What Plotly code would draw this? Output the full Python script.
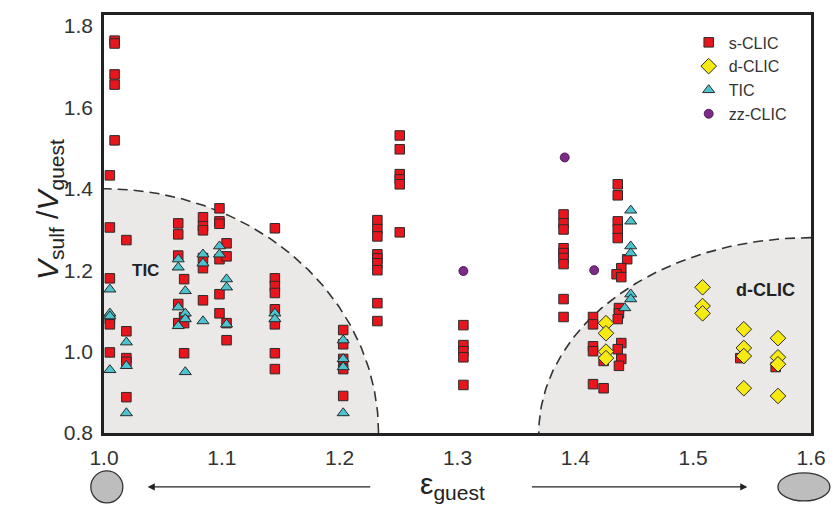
import numpy as np
import plotly.graph_objects as go

# ---- data -------------------------------------------------------------
s_clic_x = [1.009, 1.009, 1.009, 1.009, 1.009,
            1.005, 1.005, 1.005, 1.005, 1.005, 1.005,
            1.019, 1.019, 1.019, 1.019, 1.019,
            1.063, 1.063, 1.063, 1.063, 1.063,
            1.068, 1.068, 1.068, 1.068,
            1.084, 1.084, 1.084, 1.084, 1.084, 1.084,
            1.098, 1.098, 1.098, 1.098, 1.098, 1.098,
            1.104, 1.104, 1.104, 1.104,
            1.145, 1.145, 1.145, 1.145, 1.145, 1.145, 1.145, 1.145,
            1.203, 1.203, 1.203, 1.203, 1.203,
            1.232, 1.232, 1.232, 1.232, 1.232, 1.232, 1.232, 1.232, 1.232,
            1.251, 1.251, 1.251, 1.251, 1.251, 1.251,
            1.305, 1.305, 1.305, 1.305, 1.305,
            1.390, 1.390, 1.390, 1.390, 1.390, 1.390, 1.390, 1.390, 1.390,
            1.436, 1.436, 1.436, 1.436, 1.436, 1.444, 1.439, 1.435, 1.439,
            1.437, 1.437, 1.436, 1.439, 1.436, 1.439, 1.437,
            1.415, 1.415, 1.415, 1.415, 1.424, 1.415, 1.424,
            1.540, 1.570]
s_clic_y = [1.764, 1.757, 1.681, 1.656, 1.519,
            1.433, 1.305, 1.180, 1.080, 1.067, 0.998,
            1.274, 1.050, 0.984, 0.975, 0.888,
            1.315, 1.288, 1.236, 1.117, 1.070,
            1.178, 1.085, 1.070, 0.996,
            1.330, 1.308, 1.298, 1.230, 1.205, 1.126,
            1.352, 1.320, 1.314, 1.227, 1.141, 1.094,
            1.266, 1.234, 1.070, 1.028,
            1.303, 1.180, 1.161, 1.144, 1.104, 1.067, 0.996, 0.957,
            1.053, 1.018, 0.982, 0.957, 0.891,
            1.323, 1.301, 1.283, 1.239, 1.229, 1.217, 1.200, 1.119, 1.075,
            1.531, 1.497, 1.436, 1.423, 1.411, 1.293,
            1.065, 1.016, 1.001, 0.986, 0.918,
            1.337, 1.315, 1.300, 1.254, 1.242, 1.230, 1.215, 1.129, 1.085,
            1.411, 1.384, 1.320, 1.300, 1.279, 1.227, 1.205, 1.190, 1.183,
            1.107, 1.094, 1.080, 1.021, 1.006, 0.982, 0.965,
            1.085, 1.067, 1.013, 1.001, 0.977, 0.920, 0.910,
            0.984, 0.962]

d_clic_x = [1.426, 1.426, 1.426, 1.426,
            1.508, 1.508, 1.508,
            1.543, 1.543, 1.543, 1.543,
            1.572, 1.572, 1.572, 1.572]
d_clic_y = [1.070, 1.045, 1.000, 0.984,
            1.158, 1.112, 1.094,
            1.055, 1.009, 0.989, 0.910,
            1.033, 0.986, 0.969, 0.891]

tic_x = [1.005, 1.005, 1.005, 1.005,
         1.019, 1.019, 1.019,
         1.063, 1.063, 1.063, 1.063,
         1.069, 1.069, 1.069, 1.069,
         1.084, 1.084, 1.084,
         1.098, 1.098,
         1.104, 1.104, 1.104,
         1.145, 1.145,
         1.203, 1.203, 1.203, 1.203,
         1.447, 1.447, 1.447, 1.447, 1.447, 1.447, 1.442]
tic_y = [1.153, 1.094, 1.087, 0.955,
         1.023, 0.965, 0.849,
         1.227, 1.207, 1.109, 1.063,
         1.149, 1.094, 1.080, 0.950,
         1.239, 1.217, 1.075,
         1.259, 1.239,
         1.178, 1.158, 1.067,
         1.094, 1.080,
         1.028, 0.982, 0.962, 0.849,
         1.347, 1.320, 1.259, 1.242, 1.141, 1.129, 1.107]

zz_clic_x = [1.305, 1.391, 1.416]
zz_clic_y = [1.198, 1.477, 1.200]

# stability regions: quarter ellipses (centre x, centre y, x radius, y radius)
tic_region = (1.0, 0.8, 0.233, 0.600)
dclic_region = (1.6, 0.8, 0.231, 0.480)

x_ticks = [1.0, 1.1, 1.2, 1.3, 1.4, 1.5, 1.6]
y_ticks = [0.8, 1.0, 1.2, 1.4, 1.6, 1.8]

# ---- figure -------------------------------------------------------------
REGION_FILL = "#ebe9e7"
fig = go.Figure()


def quarter(cx, cy, rx, ry, t0, t1):
    t = np.linspace(t0, t1, 120)
    return cx + rx * np.cos(t), cy + ry * np.sin(t)


for (cx, cy, rx, ry), (t0, t1) in [(tic_region, (0, np.pi / 2)),
                                   (dclic_region, (np.pi / 2, np.pi))]:
    ax_, ay_ = quarter(cx, cy, rx, ry, t0, t1)
    fig.add_trace(go.Scatter(
        x=np.concatenate([[cx], ax_, [cx]]), y=np.concatenate([[cy], ay_, [cy]]),
        mode="lines", fill="toself", fillcolor=REGION_FILL,
        line=dict(width=0), hoverinfo="skip", showlegend=False))
    fig.add_trace(go.Scatter(
        x=ax_, y=ay_, mode="lines", hoverinfo="skip", showlegend=False,
        line=dict(color="#333333", width=1.6, dash="10px,6px")))

edge = dict(color="#2a2a2a", width=1)
fig.add_trace(go.Scatter(
    x=s_clic_x, y=s_clic_y, mode="markers", name="s-CLIC", legendrank=1,
    marker=dict(symbol="square", size=9.5, color="#e8161c", line=edge)))
fig.add_trace(go.Scatter(
    x=tic_x, y=tic_y, mode="markers", name="TIC", legendrank=3,
    marker=dict(symbol="triangle-up", size=10.5, color="#4cc3cf", line=edge)))
fig.add_trace(go.Scatter(
    x=d_clic_x, y=d_clic_y, mode="markers", name="d-CLIC", legendrank=2,
    marker=dict(symbol="diamond", size=12, color="#f6ea12", line=edge)))
fig.add_trace(go.Scatter(
    x=zz_clic_x, y=zz_clic_y, mode="markers", name="zz-CLIC", legendrank=4,
    marker=dict(symbol="circle", size=9, color="#7d2a88", line=dict(color="#3a1040", width=0.8))))

FONT = "Liberation Sans, Arial, sans-serif"
axis_common = dict(showline=True, mirror=True, linewidth=2.5, linecolor="#222222",
                   showgrid=False, zeroline=False, ticks="outside", ticklen=4,
                   tickcolor="rgba(0,0,0,0)",
                   tickfont=dict(family=FONT, size=21, color="#333333"))

fig.update_layout(
    width=838, height=506,
    margin=dict(l=104, r=22, t=14, b=73),
    paper_bgcolor="white", plot_bgcolor="white",
    font=dict(family=FONT, color="#222222"),
    xaxis=dict(range=[1.0, 1.6], tickvals=x_ticks,
               ticktext=[f"{v:.1f}" for v in x_ticks], **axis_common),
    yaxis=dict(range=[0.8, 1.827], tickvals=y_ticks,
               ticktext=[f"{v:.1f}" for v in y_ticks], **axis_common),
    legend=dict(x=0.827, y=0.975, xanchor="left", yanchor="top",
                bgcolor="rgba(0,0,0,0)", tracegroupgap=0, itemwidth=30,
                font=dict(family=FONT, size=16, color="#333333")),
    showlegend=True,
)

# region labels
fig.add_annotation(x=1.035, y=1.2, text="<b>TIC</b>", showarrow=False,
                   font=dict(family=FONT, size=17, color="#222222"))
fig.add_annotation(x=1.561, y=1.151, text="<b>d-CLIC</b>", showarrow=False,
                   font=dict(family=FONT, size=18, color="#222222"))

# axis titles
fig.add_annotation(xref="paper", yref="paper", x=-0.106, y=0.535,
                   text="<i>V</i><sub>sulf</sub> /<i>V</i><sub>guest</sub>",
                   textangle=-90, showarrow=False,
                   font=dict(family=FONT, size=30, color="#222222"))
fig.add_annotation(xref="paper", yref="paper", x=0.493, y=-0.125,
                   yanchor="middle",
                   text="\u03b5<sub>guest</sub>", showarrow=False,
                   font=dict(family=FONT, size=30, color="#222222"))

# direction arrows below the axis
arrow_y = -0.129
for head, tail in [(0.0618, 224), (0.910, -217)]:
    fig.add_annotation(xref="paper", yref="paper", x=head, y=arrow_y,
                       ax=tail, ay=0, axref="pixel", ayref="pixel",
                       text="", showarrow=True, arrowhead=2, arrowsize=1.1,
                       arrowwidth=1.3, arrowcolor="#222222")

# guest shapes: round (left) and elongated (right)
fig.add_shape(type="circle", xref="paper", yref="paper",
              xsizemode="pixel", ysizemode="pixel",
              xanchor=0.004, yanchor=arrow_y, x0=-16, x1=16, y0=-16, y1=16,
              fillcolor="#bdbdbd", line=dict(color="#333333", width=1.3))
fig.add_shape(type="circle", xref="paper", yref="paper",
              xsizemode="pixel", ysizemode="pixel",
              xanchor=0.990, yanchor=arrow_y, x0=-26, x1=26, y0=-14, y1=14,
              fillcolor="#bdbdbd", line=dict(color="#333333", width=1.3))

fig.write_html("out.html")
